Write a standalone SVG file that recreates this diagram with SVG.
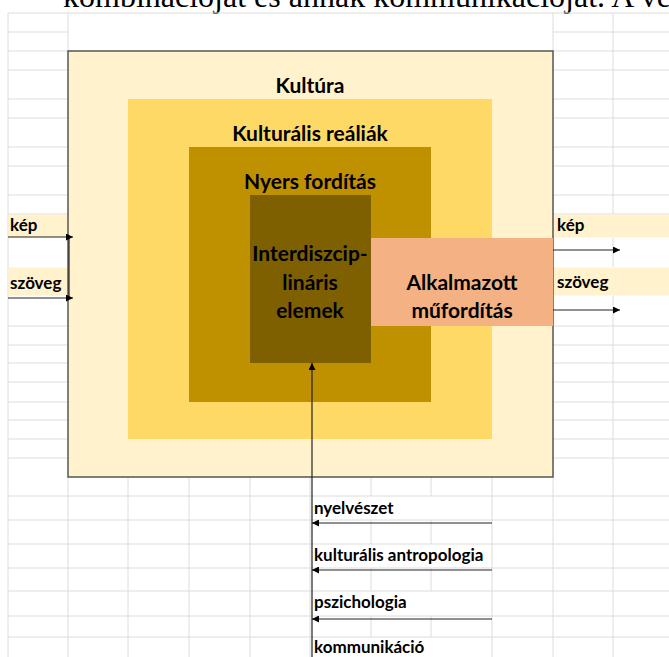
<svg xmlns="http://www.w3.org/2000/svg" width="669" height="657" viewBox="0 0 669 657">
<style>
.g{stroke:#dcdcdc;stroke-width:1;fill:none}
.lbl{font-family:Lato,"Liberation Sans",sans-serif;font-weight:bold;fill:#000}
.big{font-size:21px}
.sm{font-size:17px}
.c{text-anchor:middle}
.ar{stroke:#222;stroke-width:1.2;fill:none}
.hl{fill:#fff2cc}
</style>
<defs>
<marker id="ah" viewBox="0 0 10 10" refX="10" refY="5" markerWidth="7" markerHeight="7" markerUnits="userSpaceOnUse" orient="auto">
<path d="M0,0 L10,5 L0,10 z" fill="#000"/>
</marker>
</defs>
<rect width="669" height="657" fill="#fff"/>
<text x="63" y="7" font-family="'Liberation Serif',serif" font-size="32" fill="#000">kombinációját és annak kommunikációját. A ve</text>
<g id="grid">
<path class="g" d="M8,13H669 M8,32H68 M553,32H669 M8,51H68 M553,51H669 M8,70H68 M553,70H669 M8,99H68 M553,99H669 M8,118H68 M553,118H669 M8,147H68 M553,147H669 M8,166H68 M553,166H669 M8,195H68 M553,195H669 M8,214H68 M553,214H669 M8,326H68 M553,326H669 M8,345H68 M553,345H669 M8,363H68 M553,363H669 M8,382H68 M553,382H669 M8,402H68 M553,402H669 M8,420H68 M553,420H669 M8,439H68 M553,439H669 M8,458H68 M553,458H669 M8,496H669 M8,520H669 M8,544H669 M8,568H669 M8,591H669 M8,616H669 M8,637H669"/>
<path class="g" d="M8,13V657 M68,13V51 M553,13V51 M613,13V214 M613,238V267 M613,296V657 M68,477V657 M128,477V657 M189,477V657 M250,477V657 M310,477V657 M492,477V657 M553,477V657 M371,477V496 M431,477V496 M371,520V544 M431,520V544 M371,568V591 M431,568V591 M371,616V637 M431,616V637"/>
<rect class="hl" x="8.5" y="214.5" width="59" height="23"/>
<rect class="hl" x="8.5" y="267.5" width="59" height="28"/>
<rect class="hl" x="553.5" y="214.5" width="116" height="23"/>
<rect class="hl" x="553.5" y="267.5" width="116" height="28"/>
</g>
<g id="kultura">
<rect x="68" y="51" width="485" height="426" fill="#fff2cc" stroke="#555" stroke-width="1.5"/>
<text class="lbl big c" x="310" y="93">Kultúra</text>
</g>
<g id="realiak">
<rect x="128" y="99" width="364" height="340" fill="#ffd966"/>
<text class="lbl big c" x="310" y="141">Kulturális reáliák</text>
</g>
<g id="nyers">
<rect x="189" y="147" width="242" height="255" fill="#bf9000"/>
<text class="lbl big c" x="310" y="189">Nyers fordítás</text>
</g>
<g id="interdisz">
<rect x="250" y="195" width="121" height="168" fill="#7f6000"/>
<text class="lbl big c" x="310" y="261">Interdiszcip-</text>
<text class="lbl big c" x="310" y="290">lináris</text>
<text class="lbl big c" x="310" y="318">elemek</text>
</g>
<g id="alkalmazott">
<rect x="371" y="238" width="182" height="88" fill="#f4b183"/>
<text class="lbl big c" x="462" y="290">Alkalmazott</text>
<text class="lbl big c" x="462" y="318">műfordítás</text>
</g>
<g id="labels">
<text class="lbl sm" x="10" y="231">kép</text>
<text class="lbl sm" x="10" y="289">szöveg</text>
<text class="lbl sm" x="557" y="231">kép</text>
<text class="lbl sm" x="557" y="288">szöveg</text>
<text class="lbl sm" x="314" y="514">nyelvészet</text>
<text class="lbl sm" x="314" y="561">kulturális antropologia</text>
<text class="lbl sm" x="314" y="608">pszichologia</text>
<text class="lbl sm" x="314" y="653">kommunikáció</text>
</g>
<g id="connectors">
<path class="ar" d="M69,237V298" stroke-width="2"/>
<path class="ar" d="M8,237H73" marker-end="url(#ah)"/>
<path class="ar" d="M8,298H73" marker-end="url(#ah)"/>
<path class="ar" d="M553,250H620" marker-end="url(#ah)"/>
<path class="ar" d="M553,310H620" marker-end="url(#ah)"/>
<path class="ar" d="M312,657V363" marker-end="url(#ah)"/>
<path class="ar" d="M492,523H312" marker-end="url(#ah)"/>
<path class="ar" d="M492,570H312" marker-end="url(#ah)"/>
<path class="ar" d="M492,619H312" marker-end="url(#ah)"/>
</g>
</svg>
